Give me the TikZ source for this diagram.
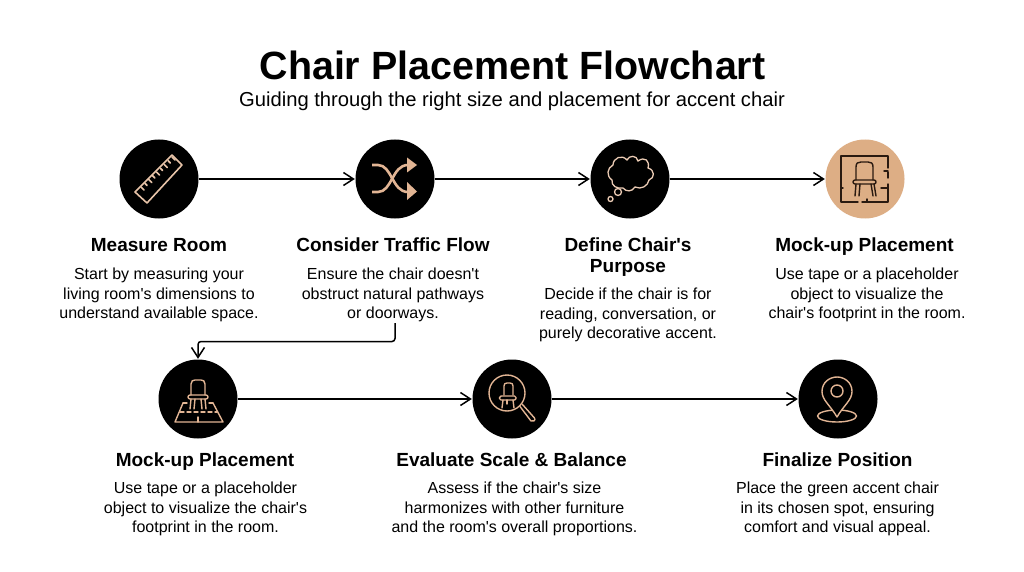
\documentclass[tikz,border=0pt]{standalone}
\usepackage{fontspec}
\setmainfont{Liberation Sans}[Ligatures=TeXOff]
\usetikzlibrary{arrows.meta,calc}
\definecolor{tan}{HTML}{DDAE85}
\definecolor{icon}{HTML}{E2B594}
\definecolor{dark}{HTML}{2A1A10}
\newcommand{\q}{{\char39}}
\tikzset{
  x=1pt,y=-1pt,
  disc/.style={circle,fill=black,minimum size=79pt,inner sep=0pt},
  tandisc/.style={circle,fill=tan,minimum size=79pt,inner sep=0pt},
  flow/.style={line width=1.7pt,-{Straight Barb[length=10pt,width=13pt,line width=1.5pt]},shorten >=0.5pt},
  ttl/.style={font=\fontsize{19}{21}\selectfont\bfseries,align=center,anchor=north,inner sep=0pt,execute at begin node=\strut},
  desc/.style={font=\fontsize{16}{19.5}\selectfont,align=center,anchor=north,inner sep=0pt,execute at begin node=\strut},
  ic/.style={draw=icon,line width=1.4pt,line join=round,line cap=round},
  icd/.style={draw=dark,line width=1.4pt,line join=round,line cap=round},
}
\begin{document}
\begin{tikzpicture}
\useasboundingbox (0,0) rectangle (1024,572);
\fill[white] (0,0) rectangle (1024,572);
\node (title) at (512.5,65) {\fontsize{39.4}{42}\selectfont\bfseries Chair Placement Flowchart};
\node (sub) at (512,101) {\fontsize{20.2}{22}\selectfont Guiding through the right size and placement for accent chair};

\node[disc] (n1) at (159,179) {};
\node[disc] (n2) at (395,179) {};
\node[disc] (n3) at (630,179) {};
\node[tandisc] (n4) at (865,179) {};
\node[disc] (n5) at (198,399) {};
\node[disc] (n6) at (512,399) {};
\node[disc] (n7) at (838,399) {};

\draw[flow] (n1) -- (n2);
\draw[flow] (n2) -- (n3);
\draw[flow] (n3) -- (n4);
\draw[flow] (n5) -- (n6);
\draw[flow] (n6) -- (n7);
\coordinate (elbow) at (395,323);
\draw[flow,line width=1.5pt,rounded corners=3pt] (elbow) -- (395,341.5) -- (198,341.5) -- (n5.north);

% ruler
\begin{scope}[ic,line width=1.6pt,draw=icon!80!white]
\draw (135,192) -- (172,155) -- (182,165) -- (147,203) -- cycle;
\foreach \t/\l in {0/4,0.125/3,0.25/4,0.375/3,0.5/4,0.625/3,0.75/4,0.875/3,1/4}{
  \draw ($(141,187)!\t!(172,157)$) -- ++(\l*0.75,\l*0.75);
}
\end{scope}

% shuffle
\begin{scope}[draw=icon,line width=2.6pt]
\draw (372,165) -- (378,165) .. controls (392,165) and (392,192) .. (408,192);
\draw (372,192) -- (378,192) .. controls (392,192) and (392,165) .. (408,165);
\fill[icon] (407,157.5) -- (417,165) -- (407,172.5) -- cycle;
\fill[icon] (407,182) -- (417,191.5) -- (407,200) -- cycle;
\end{scope}

% thought cloud
\begin{scope}[draw=icon!70!white,line width=1.3pt]
\draw (613,165) .. controls (613,158) and (622,154) .. (627,160)
 .. controls (629,155) and (637,155) .. (638,161)
 .. controls (645,156) and (650,161) .. (648,168)
 .. controls (655,170) and (655,178) .. (649,180)
 .. controls (648,186) and (641,190) .. (635,187)
 .. controls (632,192) and (626,192) .. (623,188)
 .. controls (617,189) and (611,186) .. (612,180)
 .. controls (606,176) and (607,168) .. (613,165) -- cycle;
\draw (618,192) circle (3.5);
\draw (610.5,199) circle (2.5);
\end{scope}

% floor plan chair
\begin{scope}[icd]
\draw (858,202) -- (841,202) -- (841,156) -- (888,156) -- (888,168);
\draw (888,172) -- (888,178);
\draw (888,184) -- (888,202) -- (862,202);
\draw (884,171) -- (888,171);
\draw (881,188) -- (888,188);
\draw (841,188) -- (843,188);
\draw (867,202) -- (867,199);
\draw (856,180) -- (856,167) .. controls (856,163) and (858,162) .. (861,162) -- (868,162) .. controls (871,162) and (873,163) .. (873,167) -- (873,180);
\draw[rounded corners=2pt] (853,180) rectangle (876,184);
\draw (856,184) -- (855,196); \draw (860,184) -- (859,196);
\draw (871,184) -- (873,196); \draw (874,184) -- (876,196) ;
\end{scope}

% rug chair
\begin{scope}[ic]
\draw (191,395) -- (191,384) .. controls (191,381) and (193,380) .. (195,380) -- (201,380) .. controls (203,380) and (205,381) .. (205,384) -- (205,395);
\draw[rounded corners=2pt] (188,395) rectangle (208,399);
\draw (191,399) -- (190,409); \draw (195,399) -- (194,409);
\draw (201,399) -- (202,409); \draw (205,399) -- (206,409);
\draw (183,403) -- (187,403); \draw (209,403) -- (213,403);
\draw (183,403) -- (175,422) -- (223,422) -- (213,403);
\draw[dashed,dash pattern=on 4pt off 3pt] (180,412) -- (217,412);
\draw (198,417) -- (198,422);
\end{scope}

% magnifier
\begin{scope}[ic]
\draw (507,393) circle (18);
\draw (504,395) -- (504,386) .. controls (504,384) and (505,383) .. (507,383) -- (510,383) .. controls (512,383) and (513,384) .. (513,386) -- (513,395);
\draw[rounded corners=1.5pt] (499.5,396) rectangle (516,400);
\draw (503,400) -- (502,408); \draw (513,400) -- (514,408);
\draw (507,400) -- (507,404);
\draw (520,406.5) -- (531,421) .. controls (533,422.5) and (536,420) .. (534.5,418) -- (522.5,404.5);
\end{scope}

% pin
\begin{scope}[ic]
\draw (837,416) ellipse (19.5 and 6);
\filldraw[fill=black] (837,417) .. controls (830,405) and (822,400) .. (822,391.5) .. controls (822,382) and (830,377) .. (837,377) .. controls (844,377) and (852,382) .. (852,391.5) .. controls (852,400) and (844,405) .. (837,417) -- cycle;
\draw (837,391) circle (6);
\end{scope}

% labels
\node[ttl] (t1) at (159,237) {Measure Room};
\node[desc] (d1) at (159,268) {Start by measuring your\\living room\q s dimensions to\\understand available space.};
\node[ttl] (t2) at (393,237) {Consider Traffic Flow};
\node[desc] (d2) at (393,268) {Ensure the chair doesn\q t\\obstruct natural pathways\\or doorways.};
\node[ttl] (t3) at (628,238) {Define Chair\q s\\Purpose};
\node[desc] (d3) at (628,288) {Decide if the chair is for\\reading, conversation, or\\purely decorative accent.};
\node[ttl] (t4) at (864.5,237) {Mock-up Placement};
\node[desc] (d4) at (867,268) {Use tape or a placeholder\\object to visualize the\\chair\q s footprint in the room.};
\node[ttl] (t5) at (205,452) {Mock-up Placement};
\node[desc] (d5) at (205.5,482) {Use tape or a placeholder\\object to visualize the chair\q s\\footprint in the room.};
\node[ttl] (t6) at (511.5,452) {Evaluate Scale \& Balance};
\node[desc] (d6) at (514.5,482) {Assess if the chair\q s size\\harmonizes with other furniture\\and the room\q s overall proportions.};
\node[ttl] (t7) at (837.5,452) {Finalize Position};
\node[desc] (d7) at (837.5,482) {Place the green accent chair\\in its chosen spot, ensuring\\comfort and visual appeal.};
\end{tikzpicture}
\end{document}
